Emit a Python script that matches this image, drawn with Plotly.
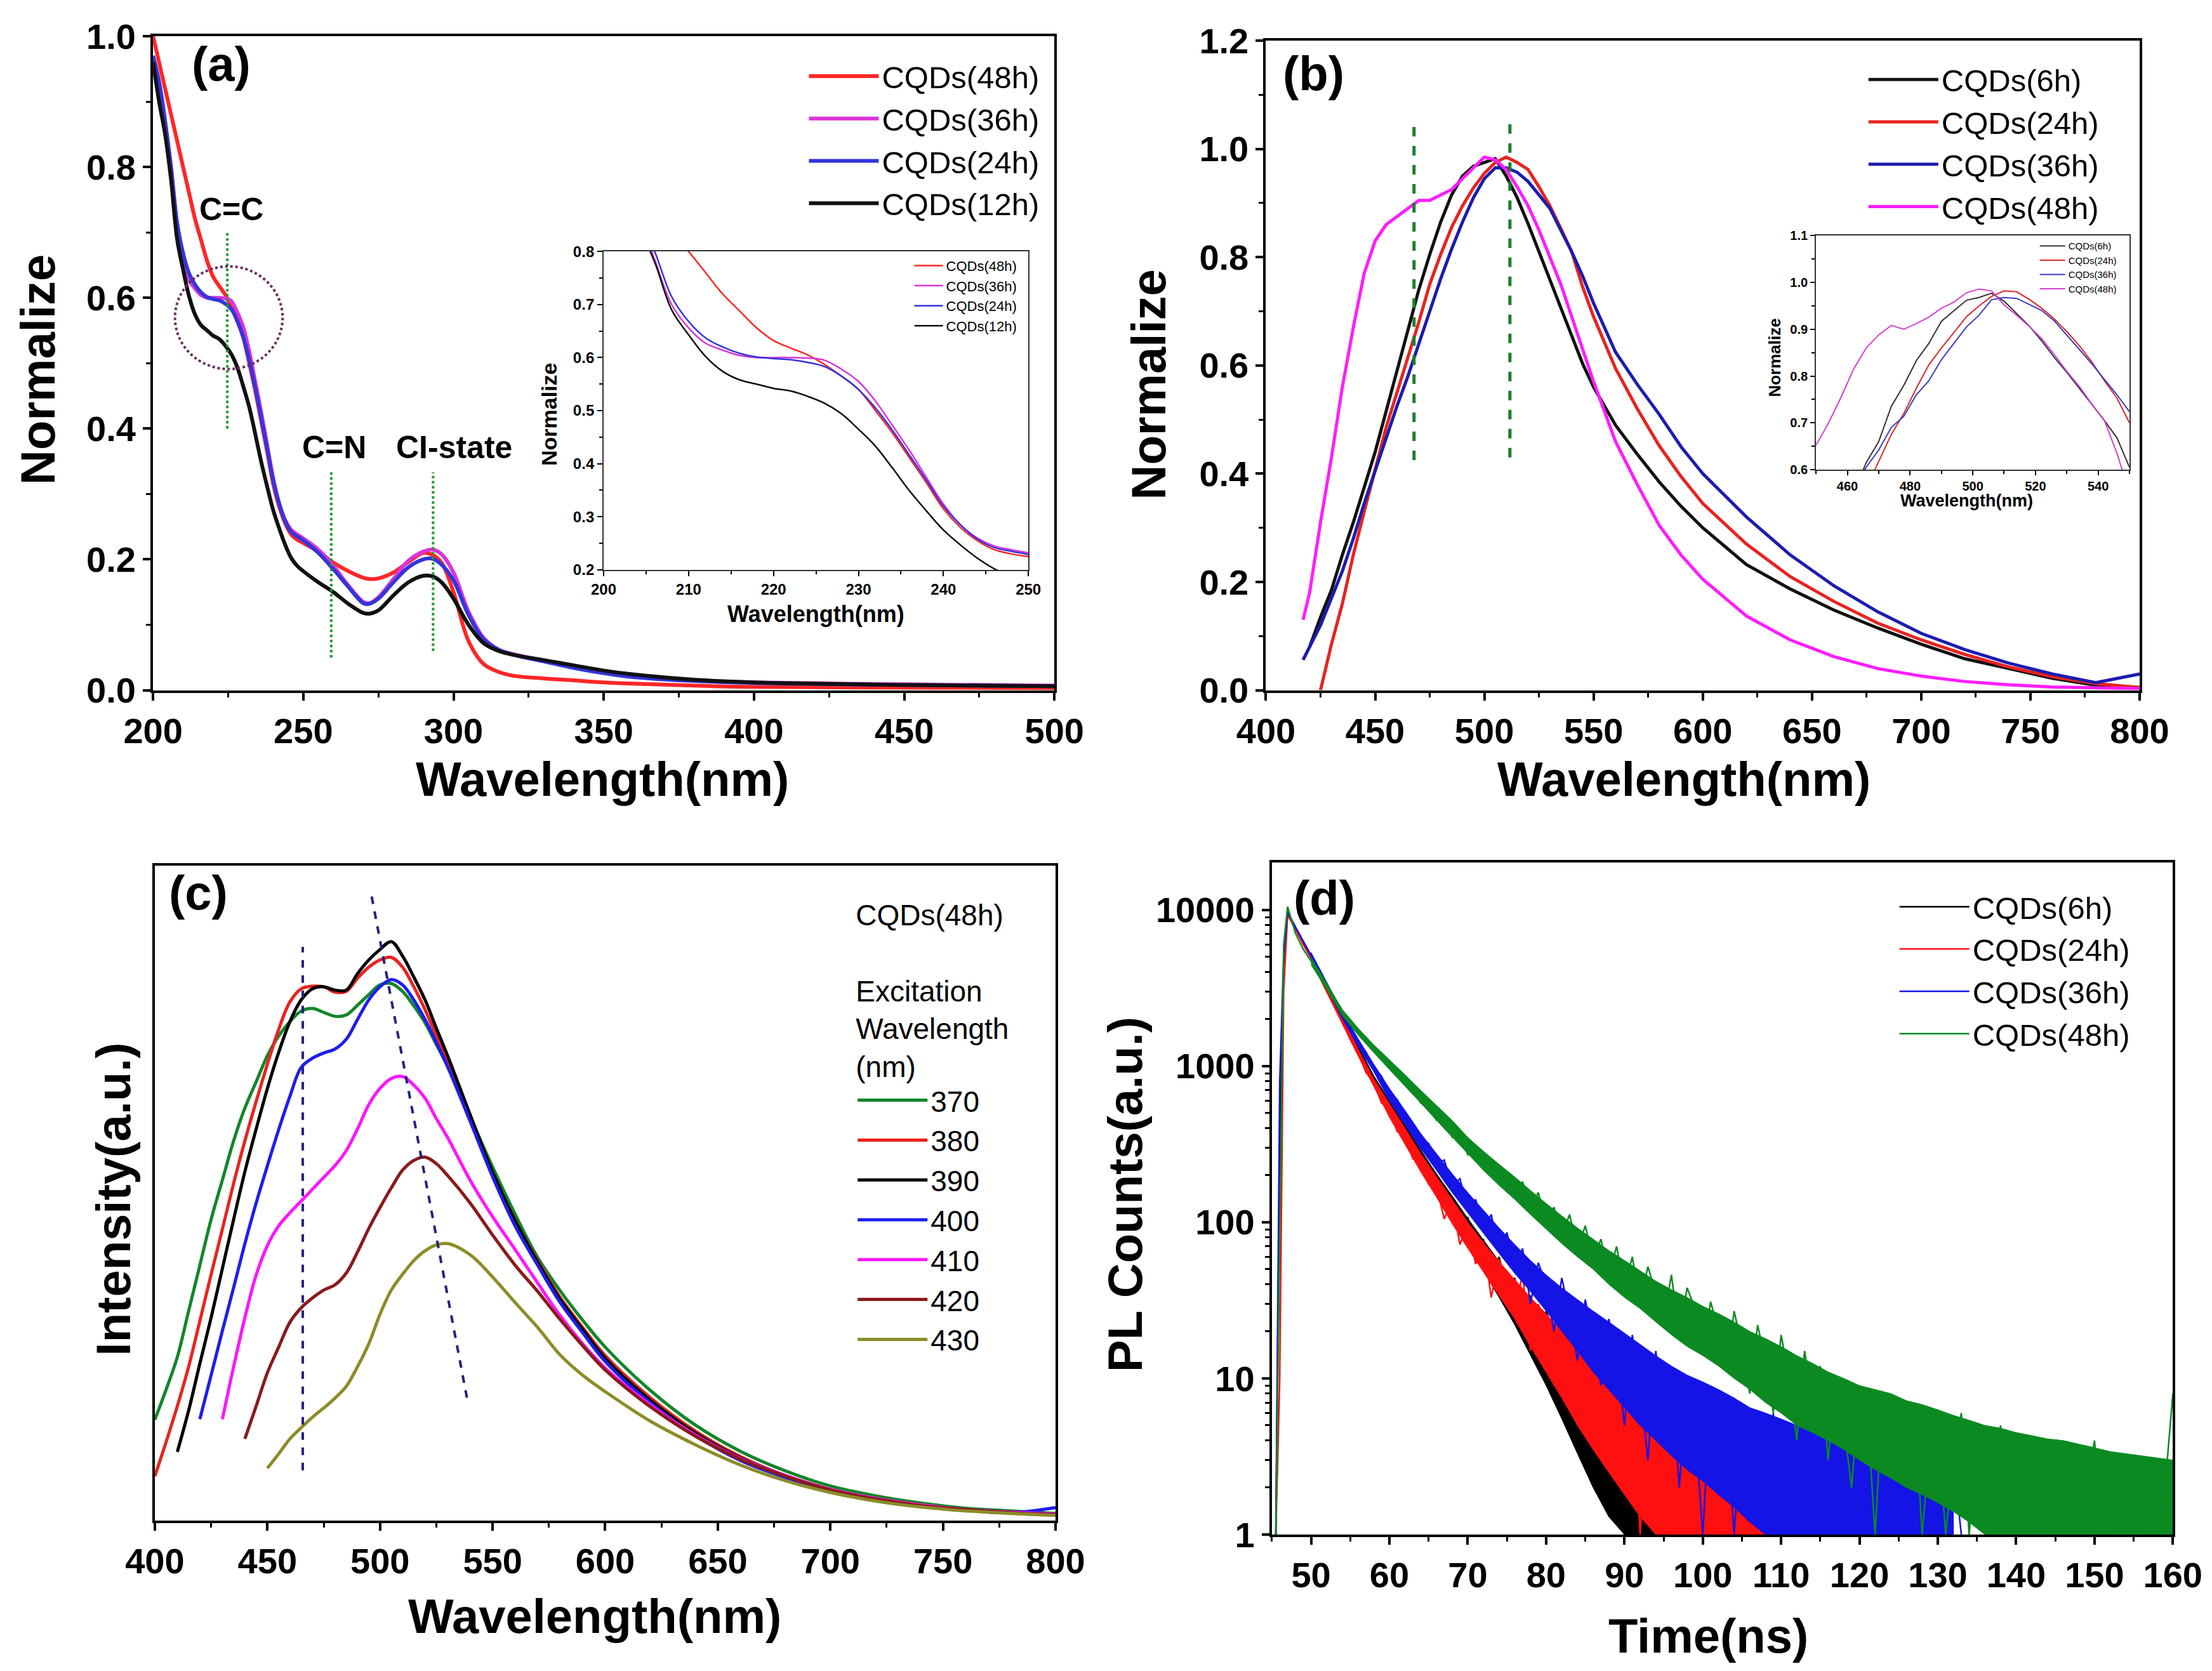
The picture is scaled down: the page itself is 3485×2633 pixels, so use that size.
import plotly.graph_objs as go

FONT = 'Liberation Sans, Arial, sans-serif'

# ---------------- (a) UV-vis absorption ----------------
wl_a = [200, 202, 204, 206, 208, 210, 212, 214, 216, 218, 220, 222, 224, 226, 228, 230, 232, 234, 236, 238,
        240, 242, 244, 246, 248, 250, 255, 260, 265, 270, 272, 275, 280, 285, 290, 293, 296, 300, 305, 310,
        315, 320, 330, 340, 350, 360, 380, 400, 450, 500]
abs_48h = [1.0, 0.96, 0.92, 0.88, 0.84, 0.80, 0.76, 0.72, 0.688, 0.656, 0.632, 0.618, 0.605, 0.587, 0.565, 0.540,
           0.500, 0.458, 0.411, 0.364, 0.315, 0.280, 0.255, 0.238, 0.230, 0.225, 0.212, 0.195, 0.182, 0.172,
           0.170, 0.171, 0.180, 0.196, 0.210, 0.207, 0.195, 0.150, 0.075, 0.040, 0.028, 0.022, 0.018, 0.015,
           0.012, 0.010, 0.007, 0.005, 0.004, 0.003]
abs_36h = [0.97, 0.93, 0.87, 0.785, 0.70, 0.656, 0.627, 0.614, 0.604, 0.600, 0.600, 0.600, 0.599, 0.595, 0.578,
           0.555, 0.518, 0.472, 0.425, 0.374, 0.324, 0.285, 0.260, 0.245, 0.238, 0.232, 0.215, 0.190, 0.160,
           0.135, 0.133, 0.142, 0.170, 0.198, 0.212, 0.215, 0.208, 0.180, 0.120, 0.080, 0.062, 0.055, 0.045,
           0.035, 0.027, 0.021, 0.015, 0.012, 0.009, 0.007]
abs_24h = [0.97, 0.93, 0.87, 0.80, 0.715, 0.668, 0.637, 0.620, 0.608, 0.601, 0.598, 0.596, 0.591, 0.583, 0.565,
           0.540, 0.505, 0.463, 0.416, 0.369, 0.320, 0.285, 0.258, 0.242, 0.235, 0.229, 0.210, 0.185, 0.158,
           0.133, 0.132, 0.140, 0.165, 0.188, 0.200, 0.201, 0.192, 0.168, 0.115, 0.078, 0.062, 0.054, 0.044,
           0.034, 0.026, 0.020, 0.014, 0.011, 0.008, 0.006]
abs_12h = [0.96, 0.90, 0.85, 0.78, 0.69, 0.643, 0.602, 0.574, 0.558, 0.550, 0.542, 0.537, 0.527, 0.514, 0.494,
           0.465, 0.433, 0.392, 0.349, 0.311, 0.275, 0.247, 0.222, 0.202, 0.190, 0.182, 0.165, 0.150, 0.132,
           0.118, 0.117, 0.122, 0.145, 0.165, 0.175, 0.174, 0.165, 0.140, 0.100, 0.072, 0.060, 0.054, 0.046,
           0.038, 0.030, 0.024, 0.016, 0.012, 0.008, 0.006]
names_a = ['CQDs(48h)', 'CQDs(36h)', 'CQDs(24h)', 'CQDs(12h)']
colors_a = ['#ff2626', '#d835d8', '#3434dc', '#111111']
peak_lines_a = [224.7, 259.3, 293.2]
peak_labels_a = ['C=C', 'C=N', 'CI-state']

# ---------------- (b) normalized PL ----------------
wl_b = [417, 420, 425, 430, 435, 440, 445, 450, 455, 460, 465, 470, 475, 480, 485, 490, 495, 500, 505, 510,
        515, 520, 525, 530, 535, 540, 545, 550, 560, 570, 580, 590, 600, 620, 640, 660, 680, 700, 720, 740,
        760, 780, 800]
pl_6h = [None, 0.08, 0.135, 0.185, 0.25, 0.31, 0.375, 0.44, 0.515, 0.59, 0.665, 0.74, 0.805, 0.865, 0.915, 0.95,
         0.968, 0.975, 0.982, 0.95, 0.91, 0.862, 0.81, 0.757, 0.705, 0.655, 0.603, 0.56, 0.49, 0.436, 0.385,
         0.34, 0.30, 0.232, 0.187, 0.148, 0.115, 0.085, 0.058, 0.040, 0.022, 0.009, 0.005]
pl_24h = [None, None, 0.0, 0.085, 0.16, 0.25, 0.33, 0.405, 0.485, 0.55, 0.615, 0.68, 0.75, 0.805, 0.855, 0.895,
          0.928, 0.955, 0.975, 0.985, 0.975, 0.962, 0.93, 0.895, 0.853, 0.81, 0.745, 0.69, 0.595, 0.52, 0.452,
          0.395, 0.345, 0.27, 0.21, 0.164, 0.124, 0.093, 0.066, 0.043, 0.025, 0.012, 0.005]
pl_36h = [0.056, 0.08, 0.12, 0.17, 0.22, 0.28, 0.345, 0.405, 0.465, 0.525, 0.58, 0.64, 0.70, 0.76, 0.815, 0.865,
          0.91, 0.945, 0.965, 0.965, 0.957, 0.94, 0.915, 0.89, 0.85, 0.81, 0.765, 0.715, 0.625, 0.565, 0.51,
          0.45, 0.40, 0.32, 0.25, 0.193, 0.145, 0.105, 0.075, 0.05, 0.03, 0.014, 0.03]
pl_48h = [0.13, 0.18, 0.31, 0.43, 0.56, 0.67, 0.77, 0.83, 0.86, 0.875, 0.89, 0.905, 0.905, 0.915, 0.925, 0.945,
          0.965, 0.985, 0.98, 0.962, 0.93, 0.895, 0.85, 0.80, 0.75, 0.69, 0.63, 0.57, 0.46, 0.38, 0.305, 0.25,
          0.205, 0.137, 0.093, 0.062, 0.04, 0.026, 0.016, 0.01, 0.006, 0.004, 0.003]
names_b = ['CQDs(6h)', 'CQDs(24h)', 'CQDs(36h)', 'CQDs(48h)']
colors_b = ['#111111', '#e8231f', '#1c1cb0', '#ff1cff']
peak_lines_b = [467.8, 511.7]

# (b) inset
wl_b_in = [450, 454, 458, 462, 466, 470, 474, 478, 482, 486, 490, 494, 498, 502, 506, 510, 514, 518, 522, 526,
           530, 534, 538, 542, 546, 550]
in_6h = [None, None, 0.50, 0.55, 0.615, 0.66, 0.735, 0.78, 0.833, 0.87, 0.917, 0.94, 0.962, 0.968, 0.977, 0.96,
         0.933, 0.907, 0.875, 0.84, 0.808, 0.774, 0.74, 0.705, 0.668, 0.605]
in_24h = [None, None, None, None, 0.56, 0.617, 0.675, 0.72, 0.774, 0.824, 0.86, 0.893, 0.927, 0.95, 0.97, 0.982,
          0.98, 0.964, 0.945, 0.922, 0.895, 0.865, 0.83, 0.79, 0.753, 0.70]
in_36h = [None, None, None, 0.56, 0.605, 0.642, 0.69, 0.714, 0.76, 0.79, 0.835, 0.87, 0.905, 0.93, 0.963, 0.968,
          0.966, 0.953, 0.94, 0.918, 0.888, 0.857, 0.826, 0.793, 0.76, 0.724]
in_48h = [0.652, 0.70, 0.755, 0.815, 0.86, 0.888, 0.908, 0.90, 0.912, 0.926, 0.945, 0.958, 0.978, 0.986, 0.982,
          0.952, 0.93, 0.906, 0.88, 0.846, 0.81, 0.778, 0.74, 0.705, 0.635, 0.55]
colors_b_in = ['#333333', '#d42a2a', '#3a3ac0', '#d040d0']

# ---------------- (c) excitation dependent PL of CQDs(48h) ----------------
wl_c = [400, 405, 410, 415, 420, 425, 430, 435, 440, 445, 450, 455, 460, 465, 470, 475, 480, 485, 490, 495,
        500, 505, 510, 515, 520, 525, 530, 540, 550, 560, 570, 580, 590, 600, 620, 640, 660, 680, 700, 720,
        740, 760, 780, 800]
ex_370 = [0.154, 0.20, 0.25, 0.32, 0.39, 0.46, 0.52, 0.58, 0.63, 0.67, 0.71, 0.74, 0.762, 0.778, 0.782, 0.776,
          0.77, 0.772, 0.787, 0.803, 0.818, 0.82, 0.808, 0.786, 0.76, 0.727, 0.694, 0.617, 0.54, 0.468, 0.402,
          0.351, 0.306, 0.265, 0.199, 0.146, 0.106, 0.076, 0.053, 0.038, 0.027, 0.019, 0.015, 0.011]
ex_380 = [0.068, 0.12, 0.175, 0.235, 0.305, 0.376, 0.445, 0.515, 0.58, 0.64, 0.697, 0.75, 0.792, 0.812, 0.816,
          0.815, 0.807, 0.808, 0.828, 0.845, 0.856, 0.86, 0.845, 0.815, 0.78, 0.74, 0.70, 0.617, 0.532, 0.458,
          0.397, 0.341, 0.295, 0.252, 0.188, 0.137, 0.098, 0.069, 0.048, 0.034, 0.024, 0.017, 0.013, 0.010]
ex_390 = [None, None, 0.105, 0.168, 0.24, 0.31, 0.385, 0.46, 0.533, 0.598, 0.66, 0.715, 0.762, 0.795, 0.812,
          0.815, 0.81, 0.81, 0.835, 0.856, 0.872, 0.884, 0.862, 0.83, 0.795, 0.752, 0.71, 0.62, 0.532, 0.458,
          0.395, 0.338, 0.292, 0.248, 0.184, 0.134, 0.096, 0.068, 0.047, 0.033, 0.023, 0.017, 0.013, 0.010]
ex_400 = [None, None, None, None, 0.155, 0.222, 0.29, 0.356, 0.423, 0.485, 0.542, 0.597, 0.648, 0.692, 0.706,
          0.714, 0.72, 0.735, 0.765, 0.795, 0.815, 0.826, 0.818, 0.795, 0.765, 0.73, 0.693, 0.61, 0.525, 0.45,
          0.39, 0.333, 0.287, 0.243, 0.18, 0.13, 0.092, 0.066, 0.046, 0.032, 0.022, 0.016, 0.012, 0.02]
ex_410 = [None, None, None, None, None, None, 0.155, 0.235, 0.31, 0.375, 0.42, 0.45, 0.47, 0.488, 0.506, 0.524,
          0.542, 0.565, 0.598, 0.635, 0.66, 0.675, 0.678, 0.665, 0.645, 0.614, 0.585, 0.52, 0.464, 0.414, 0.363,
          0.313, 0.27, 0.233, 0.177, 0.131, 0.095, 0.069, 0.048, 0.034, 0.024, 0.017, 0.013, 0.010]
ex_420 = [None, None, None, None, None, None, None, None, 0.125, 0.175, 0.226, 0.265, 0.303, 0.325, 0.34, 0.352,
          0.36, 0.378, 0.41, 0.446, 0.478, 0.508, 0.535, 0.55, 0.555, 0.545, 0.527, 0.485, 0.436, 0.39, 0.35,
          0.307, 0.267, 0.23, 0.174, 0.129, 0.094, 0.068, 0.047, 0.033, 0.023, 0.017, 0.012, 0.009]
ex_430 = [None, None, None, None, None, None, None, None, None, None, 0.08, 0.102, 0.125, 0.142, 0.158, 0.172,
          0.187, 0.205, 0.235, 0.27, 0.315, 0.352, 0.376, 0.397, 0.412, 0.421, 0.423, 0.406, 0.372, 0.333,
          0.295, 0.253, 0.222, 0.197, 0.152, 0.116, 0.085, 0.061, 0.043, 0.03, 0.021, 0.015, 0.011, 0.008]
names_c = ['370', '380', '390', '400', '410', '420', '430']
colors_c = ['#12862a', '#e8231f', '#000000', '#1d1df0', '#ff14ff', '#8a1a1a', '#8c8c28']
# dashed guide lines (x0, y0, x1, y1) in data units
guides_c = [(465.7, 0.077, 465.7, 0.876), (496.3, 0.953, 538.8, 0.184)]

# ---------------- (d) PL decay (counts per 1 ns channel) ----------------
t_ns = [45.5, 46, 46.5] + list(range(47, 161))
counts_6h = [1, 300, 4500,
             9500, 7600, 6150, 5050, 3950, 3230, 2480, 2030, 1560, 1300,
             960, 840, 640, 560, 430, 395, 290, 275, 205, 180,
             150, 128, 85, 108, 64, 78, 42, 60, 37, 44,
             22, 34, 12, 27, 19, 9, 22, 5, 13, 11,
             2, 8, 4, 1, 6, 3, 1, 4, 1, 2,
             3, 1, 2, 1]
counts_24h = [1, 10, 3000,
              9300, 7500, 6000, 4900, 3850, 3100, 2400, 1940, 1480, 1230,
              910, 790, 580, 535, 380, 370, 255, 250, 175, 170,
              105, 140, 72, 98, 54, 75, 33, 58, 40, 26,
              47, 15, 30, 21, 9, 24, 14, 5, 17, 8,
              3, 12, 6, 2, 9, 1, 5, 7, 1, 3,
              4, 1, 5, 2, 1, 3, 1, 2, 1, 3,
              1, 1, 2, 1, 2, 1, 1, 2, 1, 1]
counts_36h = [1, 800, 5000,
              9700, 7800, 6300, 5100, 4150, 3280, 2680, 2120, 1780, 1420,
              1230, 980, 860, 660, 610, 470, 430, 330, 320, 240,
              250, 170, 190, 120, 140, 92, 112, 64, 86, 50,
              68, 30, 55, 40, 20, 44, 26, 13, 32, 18,
              9, 24, 14, 5, 19, 9, 3, 15, 6, 11,
              2, 9, 5, 1, 8, 3, 6, 1, 5, 2,
              4, 1, 6, 2, 1, 4, 3, 1, 5, 1,
              2, 3, 1, 4, 1, 2, 1, 3, 2, 1,
              3, 1, 1, 2, 1, 3, 1]
counts_48h = [1, 100, 6000,
              10500, 7100, 5600, 4700, 3950, 3250, 2700, 2200, 1980, 1670,
              1530, 1290, 1200, 1000, 940, 760, 720, 580, 580, 450,
              470, 350, 375, 270, 305, 220, 250, 178, 212, 150,
              182, 120, 155, 100, 125, 82, 112, 66, 95, 58,
              78, 46, 70, 38, 60, 30, 52, 35, 24, 46,
              19, 38, 28, 14, 31, 20, 11, 27, 16, 8,
              22, 13, 6, 19, 10, 4, 15, 7, 12, 3,
              10, 5, 2, 9, 6, 1, 8, 3, 5, 2,
              7, 1, 4, 5, 1, 3, 6, 1, 4, 2,
              1, 5, 2, 3, 1, 4, 1, 2, 3, 1,
              3, 1, 2, 4, 1, 2, 1, 3, 2, 1,
              3, 1, 2, 8]
# upper / lower edges of the dense noise band, every 2 ns from 50 ns
band_t = list(range(50, 161, 2))
band_hi_6h = [5300, 3350, 2100, 1350, 870,
              600, 420, 290, 205, 148, 106, 77, 56, 41, 30, 22, 16, 12, 8.5, 6, 4.5, 3.5, 2.8, 2.3, 2, 1.6]
band_lo_6h = [4800, 3050, 1900, 1200, 760,
              500, 340, 225, 155, 105, 72, 49, 33, 22, 14, 9, 5.5, 3.3, 2, 1.3, 1, 1, 1, 1, 1, 1]
band_hi_24h = [5150, 3250, 2030, 1290, 830,
               580, 400, 275, 195, 140, 100, 74, 56, 43, 33, 26, 20, 15.5, 12, 9, 7, 5.5, 4.5, 3.8, 3.2,
               2.8, 2.5, 2.3, 2.1, 2, 2, 1.8, 1.6, 1.4]
band_lo_24h = [4700, 2950, 1850, 1160, 740,
               470, 315, 210, 145, 98, 68, 48, 34, 24, 16, 11, 7.5, 5, 3.5, 2.5, 1.8, 1.3, 1, 1, 1,
               1, 1, 1, 1, 1, 1, 1, 1, 1]
band_hi_36h = [5350, 3450, 2230, 1500, 1030,
               720, 520, 370, 275, 205, 155, 120, 92, 72, 57, 46, 38, 32, 27, 23, 19.5, 16.5, 14, 12, 10.5,
               9.5, 8.5, 7.5, 6.5, 6, 5.5, 5, 4.5, 4, 3.5, 3.2, 3, 3, 2.8, 2.6, 2.4, 2.2]
band_lo_36h = [4850, 3100, 2010, 1340, 920,
               600, 420, 295, 215, 155, 115, 85, 63, 47, 36, 27, 20, 15, 11, 8.5, 6.5, 5, 4, 3.2, 2.6,
               2.2, 1.8, 1.5, 1.2, 1, 1, 1, 1, 1, 1, 1, 1, 1, 1, 1, 1, 1]
band_hi_48h = [4950, 3400, 2300, 1750, 1370,
               1100, 880, 700, 560, 450, 350, 285, 235, 195, 160, 132, 110, 92, 78, 66, 57, 49, 42, 37, 33,
               29, 26, 23, 20, 18, 16, 14, 12.5, 11, 10, 9, 8.5, 8, 7.2, 6.8, 6.3, 5.8, 5.4, 5, 4.8,
               4.5, 4.3, 4.1, 4, 3.8, 3.6, 3.4, 3.3, 3.2, 3.1, 3]
band_lo_48h = [4450, 3100, 2100, 1580, 1220,
               950, 740, 580, 450, 350, 275, 215, 172, 140, 112, 90, 73, 60, 50, 40, 33, 28, 23, 19, 16,
               14, 12, 10, 8.5, 7, 6, 5, 4.5, 4, 3.5, 3, 2.6, 2.3, 2, 1.8, 1.6, 1.4, 1.2, 1, 1,
               1, 1, 1, 1, 1, 1, 1, 1, 1, 1, 1]
names_d = ['CQDs(6h)', 'CQDs(24h)', 'CQDs(36h)', 'CQDs(48h)']
colors_d = ['#000000', '#ff1010', '#1414e6', '#0b8a22']


def axis(size=56, lw=4, tl=12, **kw):
    d = dict(showline=True, linecolor='black', linewidth=lw, mirror=True,
             ticks='outside', ticklen=tl, tickwidth=lw, tickcolor='black',
             tickfont=dict(family=FONT, size=size, color='black', weight='bold'),
             showgrid=False, zeroline=False, fixedrange=True, automargin=False)
    d.update(kw)
    return d


def minor(dtick, tl=7, w=3):
    return dict(ticks='outside', ticklen=tl, tickwidth=w, tickcolor='black', dtick=dtick, showgrid=False)


def note(text, x, y, size, bold=True, angle=0, xref='paper', yref='paper', color='black'):
    return dict(text=text, x=x, y=y, xref=xref, yref=yref, showarrow=False, textangle=angle,
                xanchor='center', yanchor='middle',
                font=dict(family=FONT, size=size, color=color, weight='bold' if bold else 'normal'))


data = []

# (a) main + inset
for name, ys, col in zip(names_a, [abs_48h, abs_36h, abs_24h, abs_12h], colors_a):
    data.append(go.Scatter(x=wl_a, y=ys, mode='lines', name=name, line=dict(color=col, width=6, shape='spline'),
                           xaxis='x', yaxis='y', legend='legend'))
for name, ys, col in zip(names_a, [abs_48h, abs_36h, abs_24h, abs_12h], colors_a):
    data.append(go.Scatter(x=wl_a, y=ys, mode='lines', name=name, line=dict(color=col, width=2.5, shape='spline'),
                           xaxis='x5', yaxis='y5', legend='legend5'))

# (b) main + inset
for name, ys, col in zip(names_b, [pl_6h, pl_24h, pl_36h, pl_48h], colors_b):
    data.append(go.Scatter(x=wl_b, y=ys, mode='lines', name=name, line=dict(color=col, width=5),
                           xaxis='x2', yaxis='y2', legend='legend2'))
for name, ys, col in zip(names_b, [in_6h, in_24h, in_36h, in_48h], colors_b_in):
    data.append(go.Scatter(x=wl_b_in, y=ys, mode='lines', name=name, line=dict(color=col, width=2),
                           xaxis='x6', yaxis='y6', legend='legend6'))

# (c)
for name, ys, col in zip(names_c, [ex_370, ex_380, ex_390, ex_400, ex_410, ex_420, ex_430], colors_c):
    data.append(go.Scatter(x=wl_c, y=ys, mode='lines', name=name, line=dict(color=col, width=5, shape='spline'),
                           xaxis='x3', yaxis='y3', legend='legend3'))

# (d): noise band first, then the channel trace on top of it
bands_d = [(band_hi_6h, band_lo_6h), (band_hi_24h, band_lo_24h), (band_hi_36h, band_lo_36h),
           (band_hi_48h, band_lo_48h)]
for name, ys, (hi, lo), col in zip(names_d, [counts_6h, counts_24h, counts_36h, counts_48h], bands_d, colors_d):
    bt = band_t[:len(hi)]
    data.append(go.Scatter(x=bt + bt[::-1], y=hi + lo[::-1], mode='lines', fill='toself', fillcolor=col,
                           line=dict(color=col, width=1), hoverinfo='skip', showlegend=False,
                           legendgroup=name, xaxis='x4', yaxis='y4'))
    data.append(go.Scatter(x=t_ns[:len(ys)], y=ys, mode='lines', name=name, line=dict(color=col, width=2.5),
                           legendgroup=name, xaxis='x4', yaxis='y4', legend='legend4'))

shapes = []
for xv, y0, y1 in zip(peak_lines_a, [0.40, 0.05, 0.06], [0.70, 0.333, 0.333]):
    shapes.append(dict(type='line', xref='x', yref='y', x0=xv, x1=xv, y0=y0, y1=y1,
                       line=dict(color='#1f9a2f', width=4, dash='dot')))
shapes.append(dict(type='circle', xref='x', yref='y', x0=207.3, x1=243.1, y0=0.491, y1=0.648,
                   line=dict(color='#6a2c5e', width=4, dash='dot')))
for xv, y0, y1 in zip(peak_lines_b, [0.425, 0.43], [1.055, 1.06]):
    shapes.append(dict(type='line', xref='x2', yref='y2', x0=xv, x1=xv, y0=y0, y1=y1,
                       line=dict(color='#1a7f2a', width=5, dash='dash')))
for x0, y0, x1, y1 in guides_c:
    shapes.append(dict(type='line', xref='x3', yref='y3', x0=x0, x1=x1, y0=y0, y1=y1,
                       line=dict(color='#23237e', width=4, dash='dash')))

annotations = [
    note('(a)', 0.0976, 0.965, 76), note('(b)', 0.5914, 0.959, 76),
    note('(c)', 0.0875, 0.469, 76), note('(d)', 0.5963, 0.466, 76),
    note('Wavelength(nm)', 0.270, 0.537, 76), note('Wavelength(nm)', 0.759, 0.537, 76),
    note('Wavelength(nm)', 0.2667, 0.036, 76), note('Time(ns)', 0.770, 0.0243, 76),
    note('Normalize', 0.0149, 0.782, 76, angle=-90), note('Normalize', 0.517, 0.773, 76, angle=-90),
    note('Intensity(a.u.)', 0.0489, 0.2856, 76, angle=-90), note('PL Counts(a.u.)', 0.5065, 0.2883, 76, angle=-90),
    note('Wavelength(nm)', 0.3667, 0.6354, 36), note('Normalize', 0.2459, 0.7554, 34, angle=-90),
    note('Wavelength(nm)', 0.8867, 0.7034, 27), note('Normalize', 0.800, 0.789, 26, angle=-90),
]
for xv, yv, txt in zip([226.1, 260.2, 300.3], [0.735, 0.371, 0.371], peak_labels_a):
    annotations.append(note(txt, xv, yv, 50, xref='x', yref='y'))


def legend_box(x, y, size, xanchor='right', **kw):
    d = dict(x=x, y=y, xanchor=xanchor, yanchor='top', bgcolor='rgba(0,0,0,0)', borderwidth=0,
             font=dict(family=FONT, size=size, color='black'), traceorder='normal', itemwidth=110)
    d.update(kw)
    return d


layout = go.Layout(
    width=3485, height=2633, margin=dict(l=0, r=0, t=0, b=0, autoexpand=False),
    paper_bgcolor='white', plot_bgcolor='white',
    font=dict(family=FONT, color='black'),
    xaxis=axis(domain=[0.0669, 0.4744], range=[200, 500], dtick=50, minor=minor(25), anchor='y'),
    yaxis=axis(domain=[0.590, 0.9814], range=[0, 1.0], dtick=0.2, tickformat='.1f', minor=minor(0.1), anchor='x'),
    xaxis2=axis(domain=[0.570, 0.965], range=[400, 800], dtick=50, minor=minor(25), anchor='y2'),
    yaxis2=axis(domain=[0.590, 0.9787], range=[0, 1.2], dtick=0.2, tickformat='.1f', minor=minor(0.1), anchor='x2'),
    xaxis3=axis(domain=[0.0677, 0.4749], range=[400, 800], dtick=50, minor=minor(25), anchor='y3'),
    yaxis3=axis(domain=[0.093, 0.485], range=[0, 1.0], ticks='', showticklabels=False, anchor='x3'),
    xaxis4=axis(domain=[0.5727, 0.980], range=[45, 160], tick0=50, dtick=10, minor=minor(5), anchor='y4'),
    yaxis4=axis(domain=[0.0847, 0.487], type='log', range=[0, 4.305], tickvals=[1, 10, 100, 1000, 10000],
                ticktext=['1', '10', '100', '1000', '10000'],
                minor=dict(ticks='outside', ticklen=7, tickwidth=3, tickcolor='black', showgrid=False,
                           tickvals=[m * 10 ** k for k in range(4) for m in range(2, 10)]),
                anchor='x4'),
    xaxis5=axis(size=24, lw=2, tl=8, domain=[0.2706, 0.4626], range=[200, 250], dtick=10,
                minor=minor(5, tl=5, w=2), anchor='y5', linecolor='#333333'),
    yaxis5=axis(size=24, lw=2, tl=8, domain=[0.662, 0.8526], range=[0.2, 0.8], dtick=0.1, tickformat='.1f',
                minor=minor(0.05, tl=5, w=2), anchor='x5', linecolor='#333333'),
    xaxis6=axis(size=20, lw=2, tl=7, domain=[0.8187, 0.9604], range=[450, 550], tick0=460, dtick=20,
                minor=minor(10, tl=5, w=2), anchor='y6', linecolor='#333333'),
    yaxis6=axis(size=20, lw=2, tl=7, domain=[0.722, 0.862], range=[0.6, 1.1], dtick=0.1, tickformat='.1f',
                minor=minor(0.05, tl=5, w=2), anchor='x6', linecolor='#333333'),
    legend=legend_box(0.469, 0.972, 49),
    legend2=legend_box(0.948, 0.970, 49),
    legend3=legend_box(0.384, 0.472, 46, xanchor='left',
                       title=dict(text='CQDs(48h)<br><br>Excitation<br>Wavelength<br>(nm)', side='top',
                                  font=dict(family=FONT, size=46, color='black'))),
    legend4=legend_box(0.855, 0.475, 49, xanchor='left'),
    legend5=legend_box(0.459, 0.852, 22, itemwidth=45),
    legend6=legend_box(0.956, 0.862, 15, itemwidth=40),
    shapes=shapes,
    annotations=annotations,
)

fig = go.Figure(data=data, layout=layout)
fig.write_html("out.html")
